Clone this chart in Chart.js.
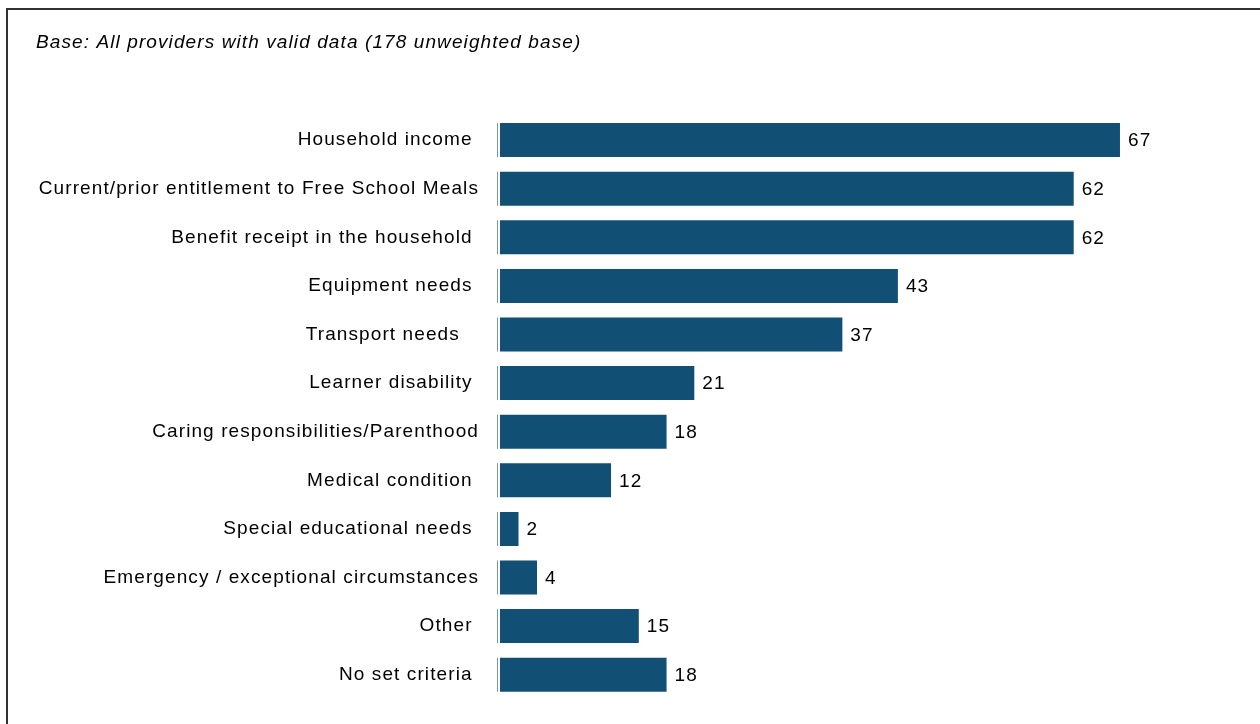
<!DOCTYPE html>
<html>
<head>
<meta charset="utf-8">
<script src="https://cdn.jsdelivr.net/npm/chart.js@4/dist/chart.umd.min.js"></script>
<style>
  html, body { margin: 0; padding: 0; background: #fff; }
  #frame {
    position: absolute;
    left: 6px;
    top: 8px;
    width: 1300px;
    height: 800px;
    border-left: 2px solid #333;
    border-top: 2px solid #333;
  }
  #wrap { position: absolute; left: 0; top: 0; width: 1260px; height: 724px; }
</style>
</head>
<body>
<div id="frame"></div>
<div id="wrap"><canvas id="bars"></canvas></div>
<script>
const categories = [
  "Household income ",
  "Current/prior entitlement to Free School Meals",
  "Benefit receipt in the household ",
  "Equipment needs ",
  "Transport needs   ",
  "Learner disability ",
  "Caring responsibilities/Parenthood",
  "Medical condition ",
  "Special educational needs ",
  "Emergency / exceptional circumstances",
  "Other ",
  "No set criteria ",
];
const percentages = [67, 62, 62, 43, 37, 21, 18, 12, 2, 4, 15, 18];
const baseText = "Base: All providers with valid data (178 unweighted base)";

const barColour = "#124f74";
const edgeColour = "#7494ad";
const textFont = "'Liberation Sans', Arial, sans-serif";
const spacing = "1.1px";

// canvas resets its state on resize, so keep letter spacing applied
const spacingPlugin = {
  id: "spacing",
  beforeUpdate(chart) { chart.ctx.letterSpacing = spacing; },
  beforeDraw(chart) { chart.ctx.letterSpacing = spacing; },
};

// thin pale stroke just left of each bar, plus the number at its end
const valueLabels = {
  id: "valueLabels",
  afterDatasetsDraw(chart) {
    const ctx = chart.ctx;
    const meta = chart.getDatasetMeta(0);
    ctx.save();
    ctx.fillStyle = edgeColour;
    meta.data.forEach((bar) => {
      ctx.fillRect(Math.round(bar.base) - 3, bar.y - bar.height / 2, 1, bar.height);
    });
    ctx.letterSpacing = spacing;
    ctx.font = "19px " + textFont;
    ctx.fillStyle = "#000";
    ctx.textAlign = "left";
    ctx.textBaseline = "middle";
    meta.data.forEach((bar, i) => {
      ctx.fillText(String(percentages[i]), bar.x + 8, bar.y + 1);
    });
    ctx.restore();
  },
};

const context = document.querySelector("#bars").getContext("2d");
new Chart(context, {
  type: "bar",
  data: {
    labels: categories,
    datasets: [
      {
        data: percentages,
        backgroundColor: barColour,
        borderWidth: 0,
        categoryPercentage: 1,
        barPercentage: 0.7,
      },
    ],
  },
  options: {
    indexAxis: "y",
    responsive: true,
    maintainAspectRatio: false,
    animation: false,
    layout: {
      padding: { left: 36, right: 66, top: 0, bottom: 25 },
    },
    plugins: {
      legend: { display: false },
      tooltip: { enabled: false },
      title: {
        display: true,
        text: baseText,
        align: "start",
        color: "#000",
        font: { family: textFont, size: 19, style: "italic", weight: "normal", lineHeight: 1.2 },
        padding: { top: 31, bottom: 62 },
      },
    },
    scales: {
      x: {
        display: false,
        min: 0,
        max: 75,
      },
      y: {
        grid: { display: false, drawTicks: false },
        border: { display: false },
        ticks: {
          color: "#000",
          padding: 21,
          font: { family: textFont, size: 19 },
        },
        afterFit(scale) {
          scale.width = 500 - 36;
          // labels sit at bar centres, no extra room needed above or below
          scale.paddingTop = 0;
          scale.paddingBottom = 0;
        },
      },
    },
  },
  plugins: [spacingPlugin, valueLabels],
});
</script>
</body>
</html>
